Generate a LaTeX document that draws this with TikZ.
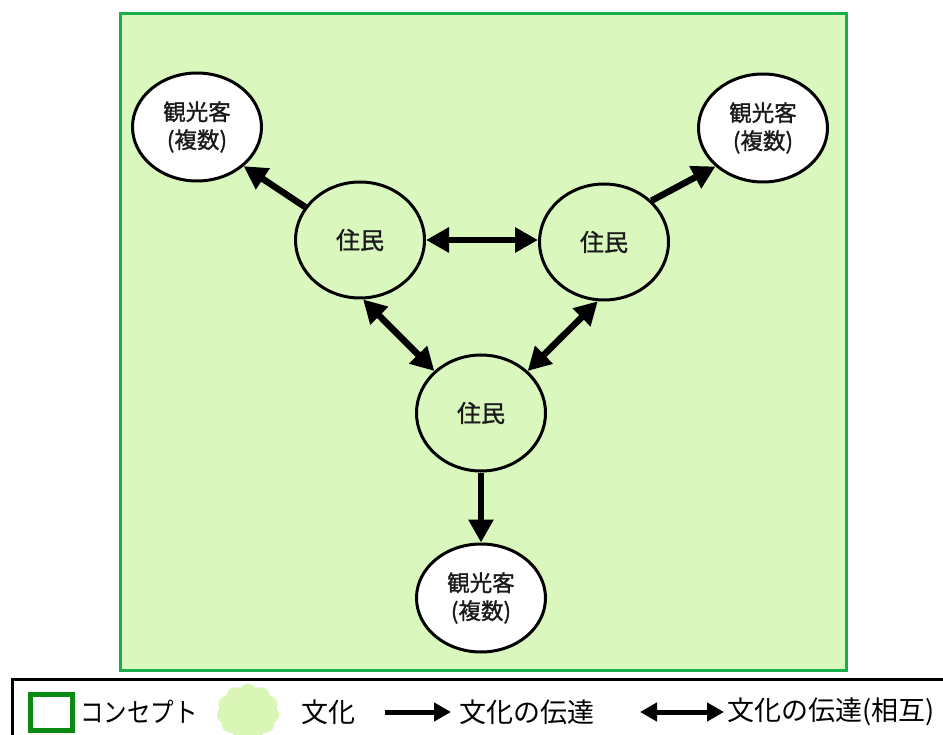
\documentclass[tikz,border=0pt]{standalone}
\usepackage{fontspec}
\usepackage{graphicx}
\setmainfont{Noto Sans CJK JP}
\newfontfamily\nodefont{Noto Sans CJK JP}[FakeBold=1.2]
\usetikzlibrary{arrows.meta,shapes.symbols,shapes.geometric}
\definecolor{conceptfill}{HTML}{DAF7BE}
\definecolor{conceptline}{HTML}{1AAE4B}
\definecolor{legendgreen}{HTML}{0A8A12}
\definecolor{cloudgreen}{HTML}{D9F6B6}
\definecolor{textdark}{HTML}{1A1A1A}
\begin{document}
\begin{tikzpicture}[x=1pt,y=-1pt,
  resident/.style={ellipse,draw=black,line width=3pt,fill=conceptfill,minimum width=129pt,minimum height=116pt,font=\nodefont\fontsize{24}{28}\selectfont,text=textdark,inner sep=0pt},
  tourist/.style={ellipse,draw=black,line width=3pt,fill=white,minimum width=129pt,minimum height=108pt,font=\nodefont\fontsize{22.5}{28}\selectfont,text=textdark,align=center,inner sep=0pt},
  flow/.style={line width=6.5pt,-{Triangle[length=23pt,width=24pt]}},
  mutual/.style={line width=6.5pt,{Triangle[length=23pt,width=24pt]}-{Triangle[length=23pt,width=24pt]}},
  legtext/.style={font=\fontsize{27}{30}\selectfont,anchor=west,inner sep=0pt}
]
\useasboundingbox (0,0) rectangle (943,735);
% concept area
\node[draw=conceptline,line width=3pt,fill=conceptfill,minimum width=726pt,minimum height=656pt,inner sep=0pt] (concept) at (483,342) {};
% nodes
\node[tourist] (t1) at (197,127) {観光客\\(複数)};
\node[tourist] (t2) at (763,128) {観光客\\(複数)};
\node[tourist] (t3) at (481,598) {観光客\\(複数)};
\node[resident] (r1) at (360,240) {住民};
\node[resident] (r2) at (604,242) {住民};
\node[resident] (r3) at (481,413) {住民};
% connectors
\draw[flow] (r1.149) -- (t1.-40);
\draw[flow] (r2.41) -- (t2.-141);
\draw[flow] (r3.south) -- (t3.north);
\draw[mutual] (r1.east) -- (r2.west |- r1.east);
\draw[mutual] (r1.-87) -- (r3.138);
\draw[mutual] (r2.-96) -- (r3.42);
% legend
\node[draw=black,line width=3pt,minimum width=960pt,minimum height=90pt,anchor=north west,inner sep=0pt] (legend) at (11,678) {};
\node[draw=legendgreen,line width=5pt,minimum width=42pt,minimum height=36pt,inner sep=0pt] (lsq) at (51,712) {};
\node[legtext] (lconcept) at (80,712) {\scalebox{0.87}[1]{コンセプト}};
\node[cloud,cloud puffs=11,cloud puff arc=110,aspect=1.2,fill=cloudgreen,minimum width=63pt,minimum height=56pt,inner sep=0pt] (lcloud) at (248,712) {};
\node[legtext] (lculture) at (301,712) {文化};
\coordinate (a1s) at (385,712);
\coordinate (a1e) at (451,712);
\draw[line width=5pt,-{Triangle[length=17pt,width=18pt]}] (a1s) -- (a1e);
\node[legtext] (ltrans) at (459,712) {文化の伝達};
\coordinate (a2s) at (640,712);
\coordinate (a2e) at (724,712);
\draw[line width=5pt,{Triangle[length=17pt,width=18pt]}-{Triangle[length=17pt,width=18pt]}] (a2s) -- (a2e);
\node[legtext] (lmutual) at (727,712) {文化の伝達(相互)};
\end{tikzpicture}
\end{document}
